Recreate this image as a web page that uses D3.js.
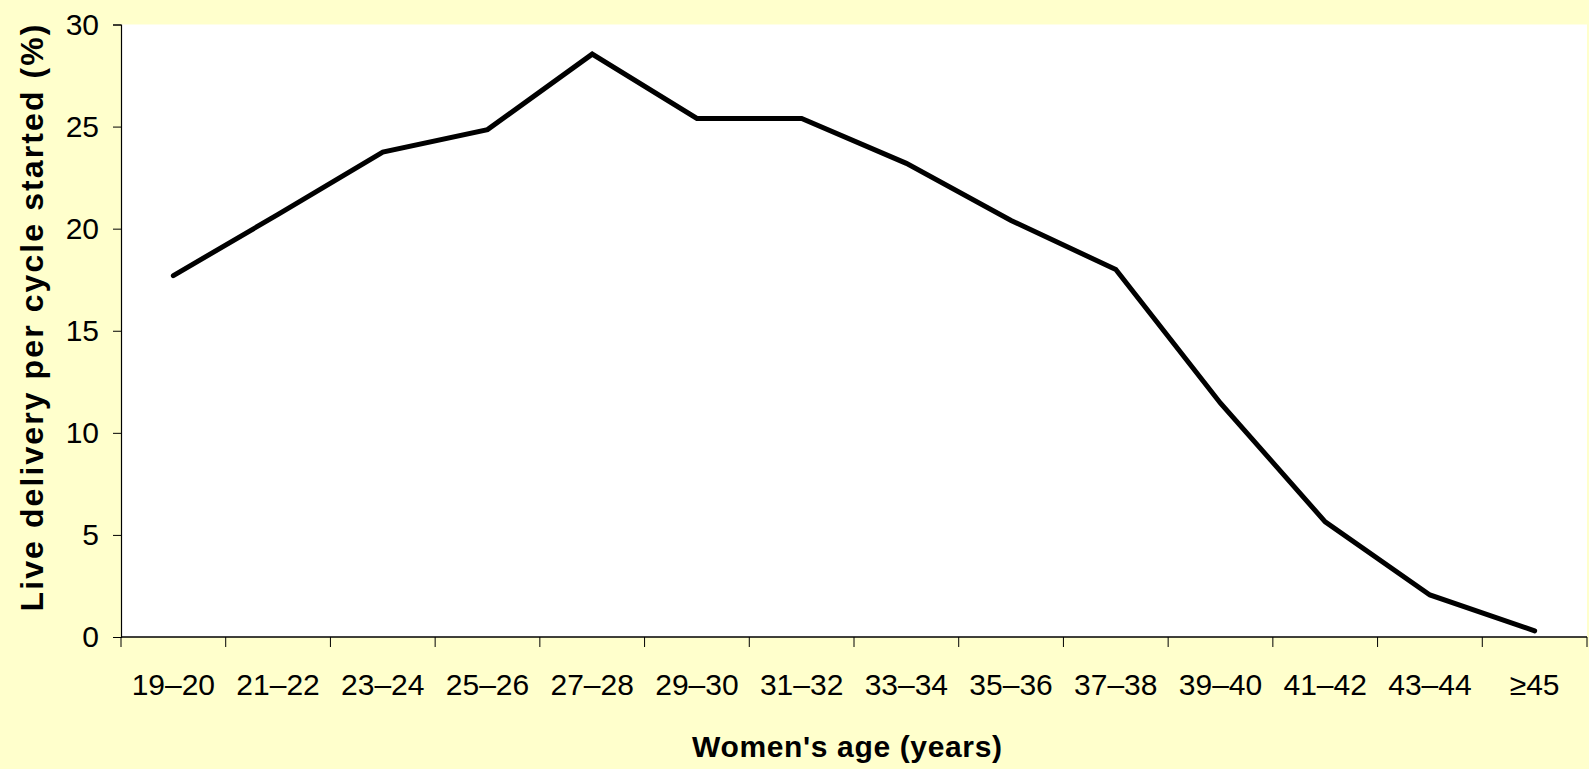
<!DOCTYPE html>
<html>
<head>
<meta charset="utf-8">
<script src="https://cdn.jsdelivr.net/npm/d3@7"></script>
<style>
  html, body { margin: 0; padding: 0; background: #ffffcc; }
  svg { display: block; font-family: "Liberation Sans", Arial, sans-serif; }
  .tick-label { font-size: 30px; fill: #000; }
  .axis-title { font-weight: bold; fill: #000; }
</style>
</head>
<body>
<div id="chart"></div>
<script>
// Dados
const ageGroups = ["19–20", "21–22", "23–24", "25–26", "27–28", "29–30", "31–32",
    "33–34", "35–36", "37–38", "39–40", "41–42", "43–44", "≥45"];
const liveDelivery = [17.7, 20.7, 23.75, 24.85, 28.55, 25.4, 25.4,
    23.2, 20.4, 18.0, 11.45, 5.64, 2.06, 0.3];
const yTicks = [0, 5, 10, 15, 20, 25, 30];

// Dimensões
const W = 1589, H = 769;
const margin = { top: 24.5, right: 2, bottom: 132, left: 121 };
const width = W - margin.left - margin.right;
const height = H - margin.top - margin.bottom;

const svg = d3.select("#chart").append("svg")
    .attr("width", W)
    .attr("height", H);

// fundo
svg.append("rect")
    .attr("width", W).attr("height", H)
    .attr("fill", "#ffffcc");

const g = svg.append("g")
    .attr("transform", `translate(${margin.left},${margin.top})`);

// área do gráfico
g.append("rect")
    .attr("width", width)
    .attr("height", height)
    .attr("fill", "#fff");

// Escalas
const xScale = d3.scaleBand()
    .domain(ageGroups)
    .range([0, width]);

const yScale = d3.scaleLinear()
    .domain([0, 30])
    .range([height, 0]);

// Eixo Y
const yAxis = g.append("g")
    .call(d3.axisLeft(yScale).tickValues(yTicks).tickSize(8).tickPadding(14));
yAxis.selectAll("text").attr("class", "tick-label").attr("font-size", null).attr("font-family", null);
yAxis.select(".domain").attr("stroke", "#000").attr("stroke-width", 1.2);

// Eixo X: ticks nos limites das categorias
const xAxisG = g.append("g").attr("transform", `translate(0,${height})`);
xAxisG.append("line")
    .attr("x1", 0).attr("x2", width)
    .attr("stroke", "#000").attr("stroke-width", 1.5);

const bounds = ageGroups.map(d => xScale(d)).concat([width]);
xAxisG.selectAll(".xtick")
    .data(bounds)
    .enter().append("line")
    .attr("class", "xtick")
    .attr("x1", d => d).attr("x2", d => d)
    .attr("y1", 0).attr("y2", 10)
    .attr("stroke", "#000");

xAxisG.selectAll(".xlabel")
    .data(ageGroups)
    .enter().append("text")
    .attr("class", "tick-label")
    .attr("text-anchor", "middle")
    .attr("x", d => xScale(d) + xScale.bandwidth() / 2)
    .attr("y", 58)
    .text(d => d);

// Linha
const line = d3.line()
    .x((d, i) => xScale(ageGroups[i]) + xScale.bandwidth() / 2)
    .y(d => yScale(d));

g.append("path")
    .datum(liveDelivery)
    .attr("fill", "none")
    .attr("stroke", "#000")
    .attr("stroke-width", 5)
    .attr("stroke-linecap", "round")
    .attr("stroke-linejoin", "miter")
    .attr("d", line);

// Títulos dos eixos
svg.append("text")
    .attr("class", "axis-title")
    .attr("font-size", 30)
    .attr("text-anchor", "middle")
    .attr("x", 847)
    .attr("y", 757)
    .attr("textLength", 310)
    .attr("lengthAdjust", "spacing")
    .text("Women's age (years)");

svg.append("text")
    .attr("class", "axis-title")
    .attr("font-size", 32)
    .attr("text-anchor", "middle")
    .attr("transform", "rotate(-90)")
    .attr("x", -318)
    .attr("y", 43)
    .attr("textLength", 587)
    .attr("lengthAdjust", "spacing")
    .text("Live delivery per cycle started (%)");
</script>
</body>
</html>
